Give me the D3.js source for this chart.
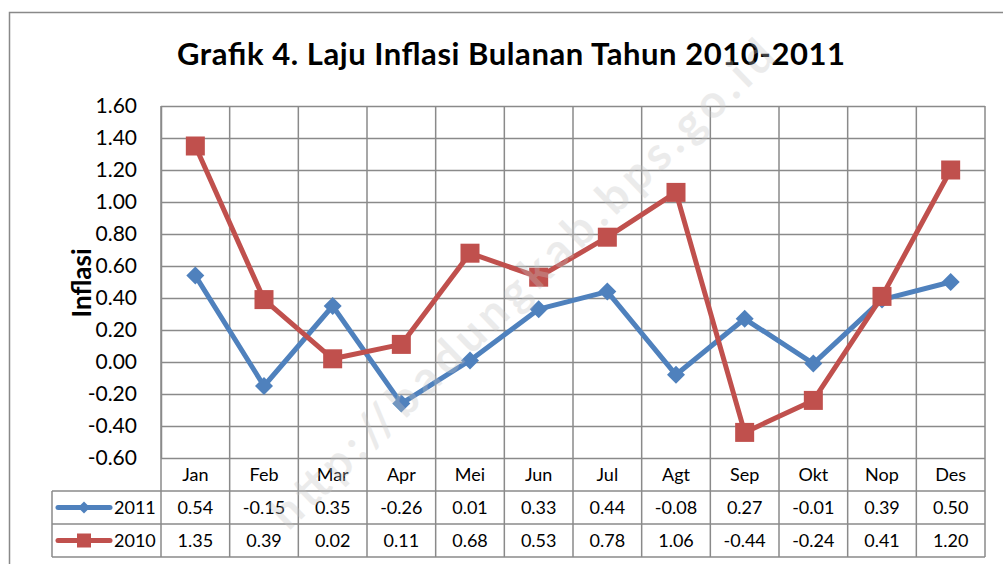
<!DOCTYPE html>
<html>
<head>
<meta charset="utf-8">
<script src="https://cdn.jsdelivr.net/npm/d3@7"></script>
<style>
  body { margin: 0; background: #fff; }
  svg { display: block; font-family: Lato, "Open Sans", sans-serif; }
</style>
</head>
<body>
<div class="chart"></div>
<script>
// data
var months = ["Jan", "Feb", "Mar", "Apr", "Mei", "Jun", "Jul", "Agt", "Sep", "Okt", "Nop", "Des"];
var infl2011 = [0.54, -0.15, 0.35, -0.26, 0.01, 0.33, 0.44, -0.08, 0.27, -0.01, 0.39, 0.50];
var infl2010 = [1.35, 0.39, 0.02, 0.11, 0.68, 0.53, 0.78, 1.06, -0.44, -0.24, 0.41, 1.20];
var yTicks = [-0.6, -0.4, -0.2, 0, 0.2, 0.4, 0.6, 0.8, 1.0, 1.2, 1.4, 1.6];

var series = [
  { name: "2011", values: infl2011, color: "#4F81BD", marker: "diamond" },
  { name: "2010", values: infl2010, color: "#C0504D", marker: "square" }
];

var svgWidth = 1003;
var svgHeight = 564;

// plot area
var plot = { left: 161, right: 985, top: 106, bottom: 458 };
var rowH = 33;
var legendLeft = 52;

var svg = d3.select(".chart")
  .append("svg")
  .attr("width", svgWidth)
  .attr("height", svgHeight);

var fmt = d3.formatLocale({ decimal: ".", thousands: ",", grouping: [3], currency: ["", ""], minus: "-" }).format(".2f");

// outer chart border
svg.append("rect")
  .attr("x", 9.5).attr("y", 12.5)
  .attr("width", 1010).attr("height", 580)
  .attr("fill", "#fff")
  .attr("stroke", "#898989")
  .attr("stroke-width", 1.5);

// title
svg.append("text")
  .attr("x", 511)
  .attr("y", 65)
  .attr("text-anchor", "middle")
  .attr("font-size", 31)
  .attr("font-weight", "bold")
  .attr("textLength", 668)
  .attr("lengthAdjust", "spacing")
  .text("Grafik 4. Laju Inflasi Bulanan Tahun 2010-2011");

var x = d3.scaleBand()
  .domain(months)
  .range([plot.left, plot.right]);

var y = d3.scaleLinear()
  .domain([-0.6, 1.6])
  .range([plot.bottom, plot.top]);

var gridColor = "#8a8a8a";

// y axis with horizontal gridlines
var yAxis = svg.append("g")
  .attr("transform", `translate(${plot.left},0)`)
  .call(d3.axisLeft(y)
    .tickValues(yTicks)
    .tickFormat(fmt)
    .tickSizeInner(-(plot.right - plot.left))
    .tickSizeOuter(0)
    .tickPadding(24));

yAxis.select(".domain").attr("stroke", gridColor).attr("stroke-width", 1.5);
yAxis.selectAll(".tick line").attr("stroke", gridColor).attr("stroke-width", 1.5);
yAxis.selectAll(".tick text")
  .attr("font-size", 21)
  .attr("font-family", "Lato, sans-serif")
  .attr("fill", "#000");

// vertical column lines, running down through the data table
var tableBottom = plot.bottom + rowH * 3;
var colEdges = months.map(m => x(m)).concat([x(months[months.length - 1]) + x.bandwidth()]);

svg.append("g")
  .selectAll("line")
  .data(colEdges)
  .enter()
  .append("line")
  .attr("x1", d => d).attr("x2", d => d)
  .attr("y1", plot.top).attr("y2", tableBottom)
  .attr("stroke", gridColor)
  .attr("stroke-width", 1.5);

// table horizontal lines
var tableLines = [
  { y: plot.bottom + rowH, x1: legendLeft },
  { y: plot.bottom + rowH * 2, x1: legendLeft },
  { y: tableBottom, x1: legendLeft }
];
svg.append("g")
  .selectAll("line")
  .data(tableLines)
  .enter()
  .append("line")
  .attr("x1", d => d.x1).attr("x2", plot.right)
  .attr("y1", d => d.y).attr("y2", d => d.y)
  .attr("stroke", gridColor)
  .attr("stroke-width", 1.5);

// left edge of legend cells
svg.append("line")
  .attr("x1", legendLeft).attr("x2", legendLeft)
  .attr("y1", plot.bottom + rowH).attr("y2", tableBottom)
  .attr("stroke", gridColor)
  .attr("stroke-width", 1.5);

// month labels
svg.append("g")
  .selectAll("text")
  .data(months)
  .enter()
  .append("text")
  .attr("x", d => x(d) + x.bandwidth() / 2)
  .attr("y", plot.bottom + rowH / 2)
  .attr("dy", "0.35em")
  .attr("text-anchor", "middle")
  .attr("font-size", 18)
  .text(d => d);

// y axis title
svg.append("text")
  .attr("transform", "translate(91,283) rotate(-90)")
  .attr("text-anchor", "middle")
  .attr("font-size", 26)
  .attr("font-weight", "bold")
  .text("Inflasi");

var line = d3.line()
  .x((d, i) => x(months[i]) + x.bandwidth() / 2)
  .y(d => y(d));

function drawMarker(g, type, color, cx, cy) {
  if (type === "diamond") {
    g.append("path")
      .attr("d", `M${cx},${cy - 9}L${cx + 9},${cy}L${cx},${cy + 9}L${cx - 9},${cy}Z`)
      .attr("fill", color);
  } else {
    g.append("rect")
      .attr("x", cx - 9.5).attr("y", cy - 9.5)
      .attr("width", 19).attr("height", 19)
      .attr("fill", color);
  }
}

// series in Excel order: 2011 first, 2010 on top
series.forEach(function(s, si) {
  var g = svg.append("g");
  g.append("path")
    .datum(s.values)
    .attr("d", line)
    .attr("fill", "none")
    .attr("stroke", s.color)
    .attr("stroke-width", 5)
    .attr("stroke-linejoin", "round");
  s.values.forEach(function(v, i) {
    drawMarker(g, s.marker, s.color, x(months[i]) + x.bandwidth() / 2, y(v));
  });

  // table row
  var rowY = plot.bottom + rowH * (si + 1) + rowH / 2;
  svg.append("g")
    .selectAll("text")
    .data(s.values)
    .enter()
    .append("text")
    .attr("x", (d, i) => x(months[i]) + x.bandwidth() / 2)
    .attr("y", rowY)
    .attr("dy", "0.35em")
    .attr("text-anchor", "middle")
    .attr("font-size", 18)
    .text(d => fmt(d));

  // legend key
  var lg = svg.append("g");
  lg.append("line")
    .attr("x1", 58).attr("x2", 110)
    .attr("y1", rowY).attr("y2", rowY)
    .attr("stroke", s.color)
    .attr("stroke-width", 5)
    .attr("stroke-linecap", "round");
  if (s.marker === "diamond") {
    lg.append("path")
      .attr("d", `M84,${rowY - 6}L90,${rowY}L84,${rowY + 6}L78,${rowY}Z`)
      .attr("fill", s.color);
  } else {
    lg.append("rect")
      .attr("x", 77).attr("y", rowY - 7)
      .attr("width", 14).attr("height", 14)
      .attr("fill", s.color);
  }
  lg.append("text")
    .attr("x", 114)
    .attr("y", rowY)
    .attr("dy", "0.35em")
    .attr("font-size", 18)
    .text(s.name);
});

// watermark
svg.append("text")
  .attr("transform", "translate(522,284) rotate(-44)")
  .attr("text-anchor", "middle")
  .attr("dy", "0.35em")
  .attr("font-size", 46)
  .attr("font-weight", "bold")
  .attr("textLength", 680)
  .attr("lengthAdjust", "spacing")
  .attr("fill", "#c4c4c4")
  .attr("opacity", 0.32)
  .text("http://badungkab.bps.go.id");
</script>
</body>
</html>
